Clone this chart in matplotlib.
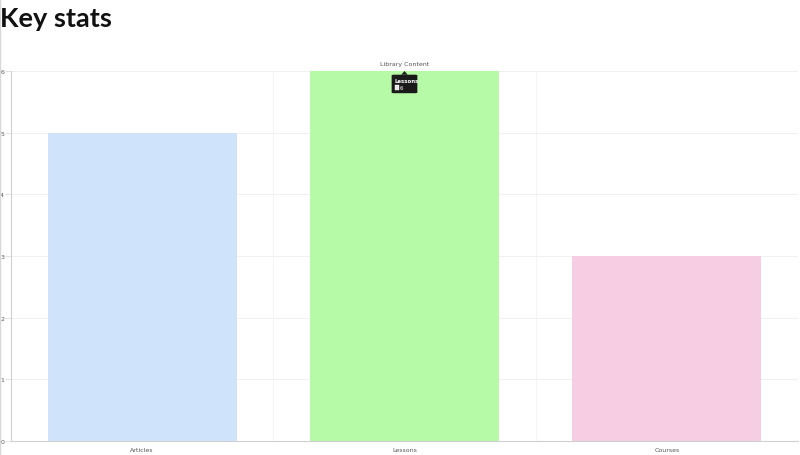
import matplotlib.pyplot as plt
from matplotlib.lines import Line2D
from matplotlib.patches import FancyBboxPatch, Rectangle, Polygon

CATEGORIES = ["Articles", "Lessons", "Courses"]
COUNTS = [5, 6, 3]
COLORS = ["#cfe4fa", "#b6f9a6", "#f6cde3"]
Y_TICKS = [0, 1, 2, 3, 4, 5, 6]

fig = plt.figure(figsize=(8, 4.56), dpi=100)
fig.text(0.0, 1 - 27 / 456, "Key stats", family="Lato", fontweight="bold",
         fontsize=19.5, va="baseline", ha="left", color="#111111")
# thin page border on the left
fig.add_artist(Line2D([0.0006, 0.0006], [0, 1], transform=fig.transFigure,
                      color="#d8d8d8", lw=1))

ax = fig.add_axes([11 / 800, 14 / 456, 787 / 800, 370 / 456])
x = list(range(len(CATEGORIES)))
ax.bar(x, COUNTS, width=0.72, color=COLORS, zorder=2)
ax.set_xlim(-0.5, len(CATEGORIES) - 0.5)
ax.set_ylim(0, 6)
ax.set_yticks(Y_TICKS)
ax.set_xticks(x)
ax.set_xticklabels(CATEGORIES)
ax.tick_params(labelsize=4.5, colors="#666666", width=0.6)
ax.tick_params(axis="y", length=4, pad=1, colors="#dddddd", labelcolor="#555555")
ax.tick_params(axis="x", length=0, pad=4, labelcolor="#555555")

# faint grid: horizontal at ticks, vertical at category boundaries
for yv in Y_TICKS[1:]:
    ax.axhline(yv, color="#eeeeee", lw=0.6, zorder=1)
for xb in [0.5, 1.5]:
    ax.axvline(xb, color="#f2f2f2", lw=0.6, zorder=1)

for s in ["top", "right"]:
    ax.spines[s].set_visible(False)
ax.spines["left"].set_color("#d0d0d0")
ax.spines["bottom"].set_color("#d0d0d0")
ax.spines["left"].set_linewidth(0.8)
ax.spines["bottom"].set_linewidth(0.8)

ax.set_title("Library Content", fontsize=4.5, color="#555555", pad=4)

# tooltip over the hovered bar
i = CATEGORIES.index("Lessons")
top = COUNTS[i]
box = FancyBboxPatch((i - 0.049, top - 0.36), 0.098, 0.30,
                     boxstyle="round,pad=0,rounding_size=0.01",
                     facecolor="#1a1a1a", edgecolor="none", zorder=5)
ax.add_patch(box)
ax.add_patch(Polygon([(i - 0.012, top - 0.06), (i + 0.012, top - 0.06), (i, top)],
                     closed=True, facecolor="#1a1a1a", edgecolor="none", zorder=5))
ax.text(i - 0.038, top - 0.15, CATEGORIES[i], fontsize=3.9,
        color="white", fontweight="bold", zorder=6, va="center")
ax.add_patch(Rectangle((i - 0.038, top - 0.31), 0.016, 0.08,
                       facecolor="#e8e8e8", edgecolor="white", lw=0.3, zorder=6))
ax.text(i - 0.017, top - 0.27, str(COUNTS[i]), fontsize=3.9,
        color="white", zorder=6, va="center")

fig.savefig("out.png", dpi=100)
